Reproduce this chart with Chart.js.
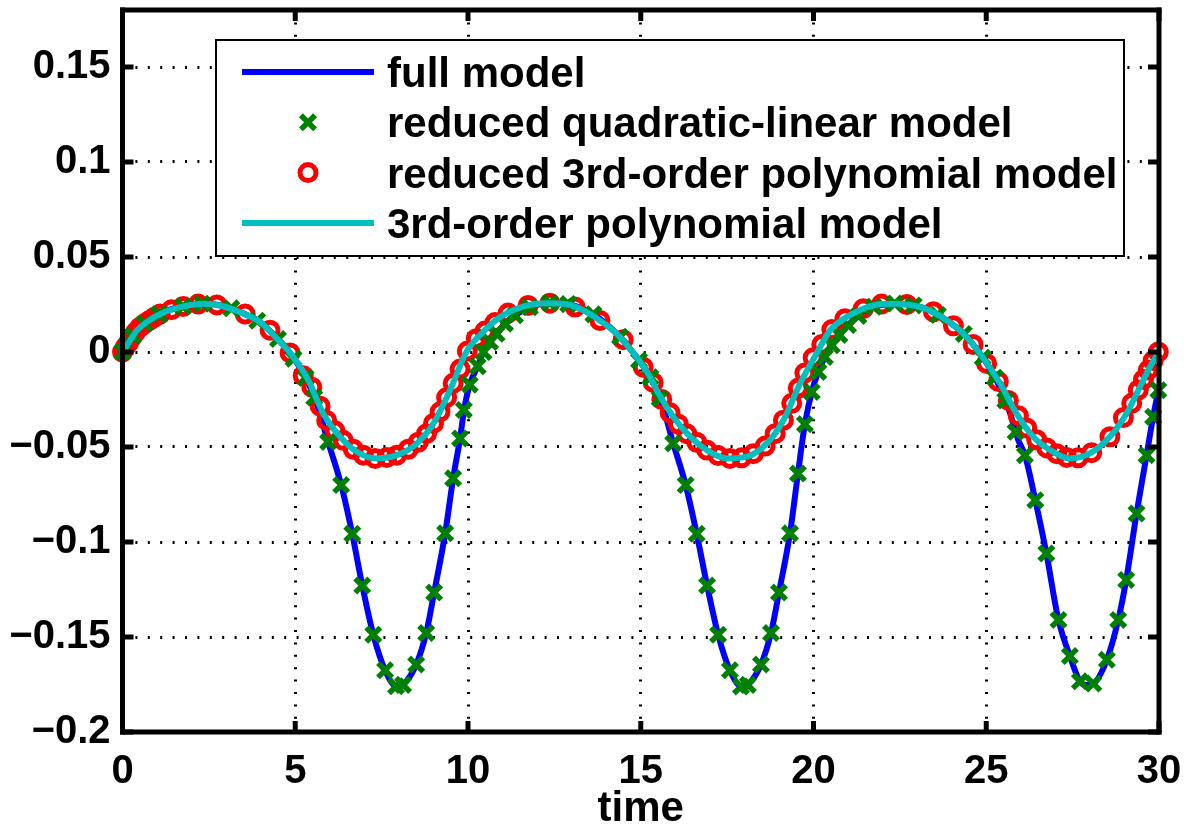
<!DOCTYPE html>
<html lang="fr">
<head>
    <meta charset="UTF-8">
    <title>Réponse temporelle - modèles réduits</title>
    <script src="https://cdn.jsdelivr.net/npm/chart.js@4.4.1/dist/chart.umd.min.js"></script>
    <style>
        html, body { margin: 0; padding: 0; background: #fff; }
        #chart { display: block; }
    </style>
</head>
<body>
    <canvas id="chart" width="1192" height="830"></canvas>
    <script>
        // Graduations
        const xTicks = [0, 5, 10, 15, 20, 25, 30];
        const xTickLabels = ['0', '5', '10', '15', '20', '25', '30'];
        const yTicks = [-0.2, -0.15, -0.1, -0.05, 0, 0.05, 0.1, 0.15];
        const yTickLabels = ['\u22120.2', '\u22120.15', '\u22120.1', '\u22120.05', '0', '0.05', '0.1', '0.15'];

        // Modèle complet (trait bleu)
        const fullT = [0, 0.4, 1.0, 1.6, 2.3, 2.9, 3.5, 4.0, 4.5, 4.85, 5.3, 5.6, 5.95, 6.33, 6.65, 6.94, 7.26, 7.60, 7.95, 8.12,
            8.50, 8.79, 9.02, 9.34, 9.57, 9.77, 9.90, 10.05, 10.28, 10.45, 10.64, 10.83, 11.07, 11.36, 11.79, 12.37, 12.90, 13.63, 14.30, 14.80,
            15.27, 15.60, 15.94, 16.30, 16.62, 16.92, 17.24, 17.58, 17.93, 18.10, 18.48, 18.77, 19.00, 19.32, 19.55, 19.75, 19.95, 20.14, 20.33, 20.53,
            20.80, 21.10, 21.44, 21.92, 22.41, 22.89, 23.37, 23.86, 24.34, 24.82, 25.30, 25.65, 25.92, 26.12, 26.42, 26.74, 27.09, 27.42, 27.71, 27.90,
            28.10, 28.49, 28.82, 29.05, 29.35, 29.64, 29.83, 29.98, 30];
        const fullV = [0, 0.0110, 0.0195, 0.0235, 0.0254, 0.0243, 0.0203, 0.0155, 0.0068, -0.0005, -0.0135, -0.0260, -0.0473, -0.0700, -0.0957, -0.1229, -0.1488, -0.1675, -0.1762, -0.1752,
            -0.1645, -0.1479, -0.1266, -0.0954, -0.0665, -0.0455, -0.0290, -0.0172, -0.0075, 0.0, 0.0053, 0.0096, 0.0149, 0.0193, 0.0236, 0.0258, 0.0252, 0.0198, 0.0097, -0.0008,
            -0.0131, -0.0265, -0.0481, -0.0700, -0.0957, -0.1229, -0.1488, -0.1675, -0.1762, -0.1752, -0.1645, -0.1479, -0.1266, -0.0954, -0.0640, -0.0380, -0.0210, -0.0105, -0.0026, 0.0035,
            0.0100, 0.0160, 0.0210, 0.0245, 0.0254, 0.0245, 0.0219, 0.0166, 0.0097, -0.0008, -0.0149, -0.0300, -0.0460, -0.0543, -0.0780, -0.1060, -0.1410, -0.1600, -0.1733, -0.1752,
            -0.1745, -0.1620, -0.1410, -0.1200, -0.0850, -0.0543, -0.0341, -0.0201, -0.0180];

        // Modèle réduit quadratique-linéaire (croix vertes)
        const quadT = [0, 0.3, 0.65, 1.05, 1.75, 2.3, 3.15, 3.9, 4.5, 4.95, 5.3, 5.55, 5.95, 6.33, 6.65, 6.94, 7.26, 7.60, 7.92, 8.12,
            8.50, 8.79, 9.02, 9.34, 9.57, 9.77, 9.88, 10.05, 10.28, 10.45, 10.64, 10.83, 11.07, 11.36, 11.79, 12.37, 12.90, 13.63, 14.40, 14.95,
            15.28, 15.55, 15.94, 16.30, 16.62, 16.92, 17.24, 17.58, 17.90, 18.10, 18.48, 18.77, 19.00, 19.32, 19.55, 19.75, 19.95, 20.14, 20.33, 20.53,
            20.75, 21.00, 21.30, 21.75, 22.35, 22.90, 23.60, 24.35, 24.90, 25.25, 25.55, 25.85, 26.12, 26.42, 26.74, 27.09, 27.42, 27.71, 28.10, 28.49,
            28.82, 29.05, 29.35, 29.64, 29.83, 29.98];
        const quadV = [0, 0.0085, 0.0150, 0.0198, 0.0240, 0.0254, 0.0230, 0.0165, 0.0068, -0.0035, -0.0135, -0.0240, -0.0473, -0.0700, -0.0957, -0.1229, -0.1488, -0.1675, -0.1759, -0.1752,
            -0.1645, -0.1479, -0.1266, -0.0954, -0.0665, -0.0455, -0.0305, -0.0172, -0.0075, 0.0, 0.0053, 0.0096, 0.0149, 0.0193, 0.0236, 0.0258, 0.0252, 0.0198, 0.0080, -0.0045,
            -0.0133, -0.0245, -0.0481, -0.0700, -0.0957, -0.1229, -0.1488, -0.1675, -0.1760, -0.1752, -0.1645, -0.1479, -0.1266, -0.0954, -0.0640, -0.0380, -0.0210, -0.0105, -0.0026, 0.0035,
            0.0090, 0.0142, 0.0190, 0.0238, 0.0255, 0.0245, 0.0195, 0.0095, -0.0030, -0.0135, -0.0255, -0.0420, -0.0543, -0.0780, -0.1060, -0.1410, -0.1600, -0.1733, -0.1745, -0.1620,
            -0.1410, -0.1200, -0.0850, -0.0543, -0.0341, -0.0201];

        // Modèle réduit polynomial d'ordre 3 (cercles rouges)
        const cubicRedT = [0, 0.08, 0.17, 0.27, 0.38, 0.5, 0.63, 0.77, 0.92, 1.09, 1.42, 1.76, 2.19, 2.73, 3.55, 4.27, 4.85, 5.23, 5.48, 5.72,
            5.91, 6.15, 6.39, 6.68, 6.97, 7.31, 7.65, 7.94, 8.27, 8.56, 8.80, 9.00, 9.19, 9.38, 9.57, 9.77, 9.98, 10.24, 10.49, 10.78,
            11.16, 11.74, 12.37, 13.10, 13.82, 14.49, 15.07, 15.36, 15.61, 15.85, 16.09, 16.33, 16.62, 16.91, 17.24, 17.58, 17.92, 18.26, 18.60, 18.89,
            19.13, 19.37, 19.56, 19.75, 19.99, 20.24, 20.53, 20.91, 21.44, 21.97, 22.70, 23.47, 24.05, 24.62, 25.01, 25.35, 25.64, 25.93, 26.17, 26.46,
            26.75, 27.04, 27.33, 27.66, 28.05, 28.58, 28.97, 29.21, 29.40, 29.55, 29.69, 29.83, 29.98];
        const cubicRedV = [0, 0.0025, 0.0048, 0.0077, 0.0105, 0.0130, 0.0148, 0.0165, 0.0183, 0.0200, 0.0223, 0.0240, 0.0252, 0.0248, 0.0200, 0.0115, -0.0005, -0.0125, -0.0185, -0.0285,
            -0.0360, -0.0415, -0.0465, -0.0512, -0.0543, -0.0560, -0.0555, -0.0543, -0.0512, -0.0475, -0.0430, -0.0376, -0.0315, -0.0240, -0.0165, -0.0090, 0.0005, 0.0070, 0.0110, 0.0155,
            0.0205, 0.0245, 0.0257, 0.0237, 0.0166, 0.0065, -0.0080, -0.0160, -0.0250, -0.0320, -0.0380, -0.0430, -0.0475, -0.0516, -0.0545, -0.0560, -0.0557, -0.0535, -0.0495, -0.0430,
            -0.0359, -0.0270, -0.0190, -0.0110, -0.0030, 0.0040, 0.0118, 0.0175, 0.0228, 0.0252, 0.0250, 0.0212, 0.0138, 0.0040, -0.0060, -0.0155, -0.0255, -0.0335, -0.0400, -0.0462,
            -0.0505, -0.0535, -0.0555, -0.0557, -0.0530, -0.0446, -0.0345, -0.0270, -0.0200, -0.0145, -0.0095, -0.0045, 0.0];

        // Modèle polynomial d'ordre 3 (trait cyan)
        const cubicT = [0, 0.2, 0.4, 0.7, 1.09, 1.76, 2.34, 2.82, 3.49, 3.98, 4.46, 4.85, 5.38, 5.81, 6.30, 6.78, 7.36, 7.94, 8.52, 9.00,
            9.48, 9.96, 10.45, 10.93, 11.41, 11.89, 12.37, 12.86, 13.34, 13.82, 14.30, 14.80, 15.27, 15.46, 15.94, 16.43, 16.91, 17.49, 18.07, 18.65,
            19.13, 19.61, 20.09, 20.48, 20.96, 21.44, 21.92, 22.41, 22.89, 23.37, 23.86, 24.34, 24.82, 25.35, 25.88, 26.36, 26.85, 27.42, 28.00, 28.58,
            29.06, 29.45, 29.75, 30];
        const cubicV = [0, 0.0055, 0.0110, 0.0157, 0.0200, 0.0240, 0.0254, 0.0245, 0.0203, 0.0158, 0.0072, -0.0005, -0.0149, -0.0324, -0.0446, -0.0525, -0.0560, -0.0543, -0.0481, -0.0376,
            -0.0201, 0.0002, 0.0108, 0.0184, 0.0228, 0.0251, 0.0257, 0.0251, 0.0219, 0.0166, 0.0097, -0.0008, -0.0131, -0.0201, -0.0341, -0.0446, -0.0516, -0.0560, -0.0551, -0.0481,
            -0.0359, -0.0166, -0.0008, 0.0114, 0.0184, 0.0228, 0.0251, 0.0254, 0.0245, 0.0219, 0.0166, 0.0097, -0.0008, -0.0150, -0.0324, -0.0446, -0.0516, -0.0560, -0.0534, -0.0446,
            -0.0324, -0.0184, -0.0075, 0.0];

        const FONT = '"Liberation Sans", Arial, Helvetica, sans-serif';
        const toPoints = (ts, vs) => ts.map((t, i) => ({ x: t, y: vs[i] }));

        // Cadre noir épais + graduations vers l'intérieur sur les 4 côtés
        const axesFrame = {
            id: 'axesFrame',
            afterDraw(chart) {
                const ctx = chart.ctx;
                const a = chart.chartArea;
                const sx = chart.scales.x;
                const sy = chart.scales.y;
                const len = 11;
                ctx.save();
                ctx.fillStyle = '#000';
                xTicks.forEach(t => {
                    const px = sx.getPixelForValue(t);
                    ctx.fillRect(px - 2.5, a.bottom - len, 5, len);
                    ctx.fillRect(px - 2.5, a.top, 5, len);
                });
                yTicks.forEach(v => {
                    const py = sy.getPixelForValue(v);
                    ctx.fillRect(a.left, py - 2.5, len, 5);
                    ctx.fillRect(a.right - len, py - 2.5, len, 5);
                });
                ctx.fillRect(a.left - 2.5, a.top - 2.5, a.right - a.left + 5, 5);
                ctx.fillRect(a.left - 2.5, a.bottom - 2.5, a.right - a.left + 5, 5);
                ctx.fillRect(a.left - 2.5, a.top - 2.5, 5, a.bottom - a.top + 5);
                ctx.fillRect(a.right - 2.5, a.top - 2.5, 5, a.bottom - a.top + 5);
                ctx.restore();
            }
        };

        // Légende encadrée à l'intérieur des axes
        const legendBox = {
            id: 'legendBox',
            afterDraw(chart) {
                const ctx = chart.ctx;
                const L = 216, T = 40, R = 1124, B = 256;
                ctx.save();
                ctx.fillStyle = '#fff';
                ctx.fillRect(L, T, R - L, B - T);
                ctx.lineWidth = 2;
                ctx.strokeStyle = '#000';
                ctx.strokeRect(L, T, R - L, B - T);

                chart.data.datasets.forEach((ds, i) => {
                    const cy = 72 + i * 50.3;
                    if (ds.showLine) {
                        ctx.strokeStyle = ds.borderColor;
                        ctx.lineWidth = ds.borderWidth;
                        ctx.beginPath();
                        ctx.moveTo(242, cy);
                        ctx.lineTo(374, cy);
                        ctx.stroke();
                    } else {
                        ctx.strokeStyle = ds.pointBorderColor;
                        ctx.lineWidth = ds.pointBorderWidth;
                        ctx.beginPath();
                        if (ds.pointStyle === 'circle') {
                            ctx.arc(308, cy, ds.pointRadius, 0, Math.PI * 2);
                        } else {
                            const d = ds.pointRadius * Math.SQRT1_2;
                            ctx.moveTo(308 - d, cy - d); ctx.lineTo(308 + d, cy + d);
                            ctx.moveTo(308 + d, cy - d); ctx.lineTo(308 - d, cy + d);
                        }
                        ctx.stroke();
                    }
                    ctx.fillStyle = '#000';
                    ctx.font = 'bold 42px ' + FONT;
                    ctx.textAlign = 'left';
                    ctx.textBaseline = 'alphabetic';
                    ctx.fillText(ds.label, 387, cy + 15);
                });
                ctx.restore();
            }
        };

        const tickFont = { size: 40, weight: 'bold', family: FONT };

        new Chart(document.getElementById('chart'), {
            type: 'scatter',
            data: {
                datasets: [{
                    label: 'full model',
                    data: toPoints(fullT, fullV),
                    showLine: true,
                    borderColor: '#0000ff',
                    borderWidth: 6,
                    pointRadius: 0,
                    cubicInterpolationMode: 'monotone',
                    order: 4
                }, {
                    label: 'reduced quadratic-linear model',
                    data: toPoints(quadT, quadV),
                    showLine: false,
                    pointStyle: 'crossRot',
                    pointRadius: 10,
                    pointBorderWidth: 5.5,
                    pointBorderColor: '#008000',
                    pointBackgroundColor: '#008000',
                    clip: false,
                    order: 2
                }, {
                    label: 'reduced 3rd-order polynomial model',
                    data: toPoints(cubicRedT, cubicRedV),
                    showLine: false,
                    pointStyle: 'circle',
                    pointRadius: 8,
                    pointBorderWidth: 5,
                    pointBorderColor: '#ff0000',
                    pointBackgroundColor: 'rgba(0,0,0,0)',
                    clip: false,
                    order: 3
                }, {
                    label: '3rd-order polynomial model',
                    data: toPoints(cubicT, cubicV),
                    showLine: true,
                    borderColor: '#00bfbf',
                    borderWidth: 6,
                    pointRadius: 0,
                    cubicInterpolationMode: 'monotone',
                    order: 1
                }]
            },
            options: {
                responsive: false,
                animation: false,
                devicePixelRatio: 1,
                events: [],
                layout: { autoPadding: false, padding: { top: 10, right: 33, left: 0, bottom: 0 } },
                plugins: {
                    legend: { display: false },
                    tooltip: { enabled: false }
                },
                scales: {
                    x: {
                        type: 'linear',
                        min: 0,
                        max: 30,
                        afterBuildTicks: s => { s.ticks = xTicks.map(v => ({ value: v })); },
                        afterFit: s => { s.height = 98; s.paddingLeft = 0; s.paddingRight = 0; },
                        ticks: {
                            callback: (v, i) => xTickLabels[i],
                            font: tickFont,
                            color: '#000',
                            padding: 16,
                            maxRotation: 0,
                            autoSkip: false
                        },
                        grid: { color: '#000', lineWidth: 3, drawTicks: false },
                        border: { display: false, dash: [2, 10.4] },
                        title: {
                            display: true,
                            text: 'time',
                            color: '#000',
                            font: { size: 42, weight: 'bold', family: FONT, lineHeight: 1 },
                            padding: 0
                        }
                    },
                    y: {
                        type: 'linear',
                        min: -0.2,
                        max: 0.18,
                        afterBuildTicks: s => { s.ticks = yTicks.map(v => ({ value: v })); },
                        afterFit: s => { s.width = 122.5; s.paddingTop = 0; s.paddingBottom = 0; },
                        ticks: {
                            callback: (v, i) => yTickLabels[i],
                            font: tickFont,
                            color: '#000',
                            padding: 12,
                            autoSkip: false
                        },
                        grid: { color: '#000', lineWidth: 3, drawTicks: false },
                        border: { display: false, dash: [2, 10.4] }
                    }
                }
            },
            plugins: [axesFrame, legendBox]
        });
    </script>
</body>
</html>
